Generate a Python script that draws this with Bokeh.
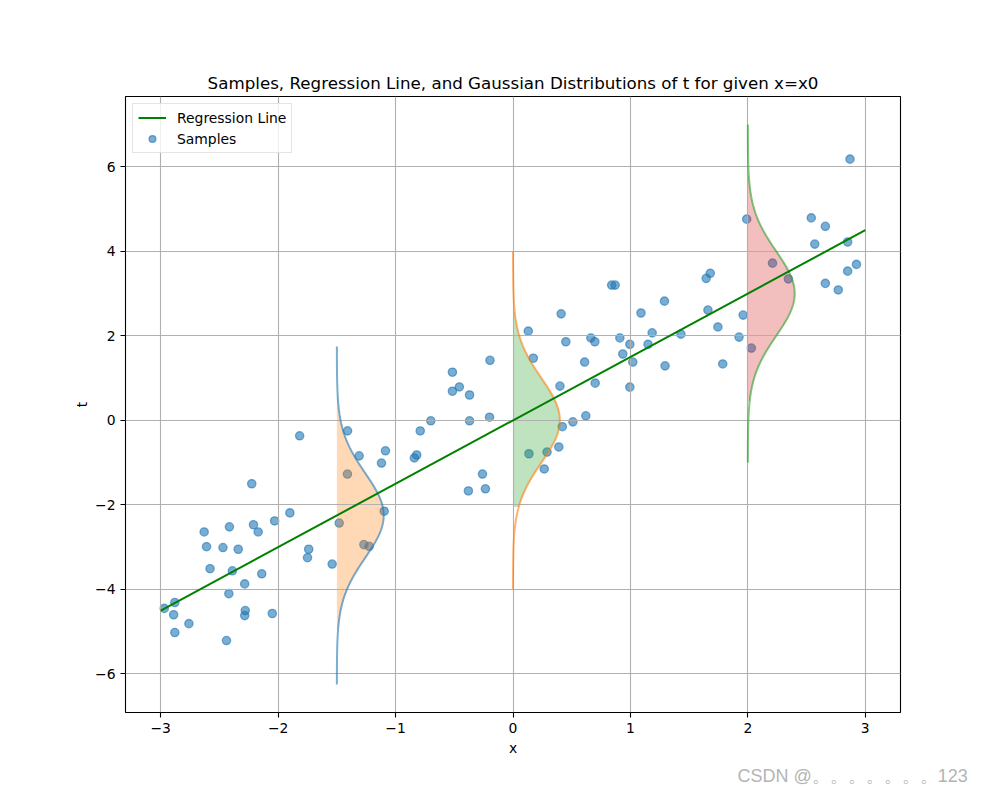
import numpy as np
from bokeh.plotting import figure
from bokeh.models import (Range1d, FixedTicker, Legend, LegendItem, Title,
                          CustomJSTickFormatter)
from bokeh.embed import file_html
from bokeh.resources import INLINE

# ---------------- data ----------------
sample_x = [-1.817, -1.409, -1.31, -1.12, -1.41, -2.225, -1.90, -2.03, -2.415, -2.21,
            -2.17, -2.63, -1.48, -2.61, -2.47, -2.34, -1.74, -1.75, -1.54, -1.27,
            -1.225, -2.58, -2.39, -2.14, -2.285, -2.42, -2.88, -2.97, -2.89, -2.28,
            -2.285, -2.05, -2.76, -2.88, -2.44, -1.086, -1.097, -0.516, -0.196, -0.516,
            -0.457, -0.37, -0.70, -0.79, -0.37, -0.20, -0.84, -0.82, -0.26, -0.38,
            -0.235, 0.13, 0.41, 0.173, 0.45, 0.663, 0.697, 0.61, 0.40, 0.70,
            0.42, 0.51, 0.62, 0.39, 0.29, 0.136, 0.266, 0.84, 0.87, 0.91,
            0.995, 0.935, 1.02, 0.995, 1.09, 1.29, 1.185, 1.15, 1.295, 1.43,
            2.87, 1.99, 2.54, 2.66, 2.57, 2.85, 2.21, 2.345, 2.85, 2.925,
            2.66, 2.77, 1.645, 1.68, 1.66, 1.96, 1.745, 1.925, 1.786, 2.03]
sample_t = [-0.366, -0.248, -0.84, -1.01, -1.27, -1.50, -2.19, -2.38, -2.52, -2.47,
            -2.64, -2.64, -2.43, -2.99, -3.01, -3.05, -3.05, -3.25, -3.40, -2.94,
            -2.98, -3.51, -3.56, -3.63, -3.87, -4.10, -4.31, -4.45, -4.60, -4.50,
            -4.62, -4.57, -4.81, -5.02, -5.21, -0.72, -2.15, 1.14, 1.42, 0.69,
            0.79, 0.60, -0.01, -0.25, -0.01, 0.075, -0.89, -0.82, -1.27, -1.67,
            -1.62, 2.11, 2.52, 1.47, 1.86, 1.95, 1.86, 1.38, 0.81, 0.88,
            -0.15, -0.035, 0.106, -0.63, -0.75, -0.79, -1.15, 3.20, 3.20, 1.95,
            1.80, 1.57, 1.38, 0.785, 2.54, 2.82, 2.07, 1.80, 1.29, 2.04,
            6.18, 4.76, 4.79, 4.59, 4.17, 4.22, 3.72, 3.345, 3.53, 3.69,
            3.24, 3.085, 3.36, 3.48, 2.61, 2.49, 2.21, 1.97, 1.335, 1.71]

reg_x = [-3.0, 3.0]
reg_t = [-4.5, 4.5]

x0_list = [-1.5, 0.0, 2.0]      # positions of the Gaussian curves
slope = 1.5                      # regression slope (mean of t at x0)
sigma = 1.0
t_half = 4.0                     # curve drawn over mean +/- t_half
fill_lo = [-4.95, -2.05, 0.45]   # fill extents (t)
fill_hi = [0.6, 2.55, 5.8]

x_ticks = [-3, -2, -1, 0, 1, 2, 3]
y_ticks = [-6, -4, -2, 0, 2, 4, 6]

line_colors = ["#1f77b4", "#ff7f0e", "#2ca02c"]
fill_colors = ["#ff7f0e", "#2ca02c", "#d62728"]

FONT = "DejaVu Sans"

# ---------------- figure ----------------
p = figure(width=992, height=792,
           x_range=Range1d(-3.3, 3.3), y_range=Range1d(-6.9125, 7.6625),
           output_backend="svg", toolbar_location=None,
           min_border_left=125, min_border_right=92,
           min_border_top=96, min_border_bottom=80,
           title="Samples, Regression Line, and Gaussian Distributions of t for given x=x0")

p.title.text_font = FONT
p.title.text_font_size = "16.7px"
p.title.text_font_style = "normal"
p.title.align = "center"
p.title.standoff = 7
p.title.text_color = "black"

p.background_fill_color = "white"
p.border_fill_color = "white"
p.outline_line_color = "black"
p.outline_line_width = 1.1

fmt = CustomJSTickFormatter(code="return (tick < 0 ? '\u2212' : '') + Math.abs(tick).toString();")

p.xaxis.ticker = FixedTicker(ticks=x_ticks)
p.yaxis.ticker = FixedTicker(ticks=y_ticks)
for ax in (p.xaxis, p.yaxis):
    ax.formatter = fmt
    ax.axis_line_color = None
    ax.major_tick_out = 5
    ax.major_tick_in = 0
    ax.minor_tick_out = 0
    ax.minor_tick_in = 0
    ax.major_tick_line_color = "black"
    ax.major_tick_line_width = 1.1
    ax.major_label_text_font = FONT
    ax.major_label_text_font_size = "13.9px"
    ax.major_label_text_color = "black"
    ax.major_label_standoff = 5
    ax.axis_label_text_font = FONT
    ax.axis_label_text_font_size = "13.9px"
    ax.axis_label_text_font_style = "normal"
    ax.axis_label_text_color = "black"
p.xaxis.axis_label = "x"
p.yaxis.axis_label = "t"
p.xaxis.axis_label_standoff = 4
p.yaxis.axis_label_standoff = 2

p.grid.grid_line_color = "#b0b0b0"
p.grid.grid_line_width = 1.1

# samples (bottom-most)
sc = p.scatter(sample_x, sample_t, size=8.3, fill_color="#1f77b4", fill_alpha=0.6,
               line_color="#1f77b4", line_alpha=0.6, line_width=1.3, level="image")

# Gaussian fills and curves
for x0, fc, lo, hi in zip(x0_list, fill_colors, fill_lo, fill_hi):
    mean = slope * x0
    tf = np.linspace(lo, hi, 300)
    pf = np.exp(-0.5 * ((tf - mean) / sigma) ** 2) / (sigma * np.sqrt(2 * np.pi))
    p.harea(x1=np.full_like(tf, x0), x2=x0 + pf, y=tf, fill_color=fc, fill_alpha=0.3,
            level="image")
for x0, lc in zip(x0_list, line_colors):
    mean = slope * x0
    tc = np.linspace(mean - t_half, mean + t_half, 400)
    pc = np.exp(-0.5 * ((tc - mean) / sigma) ** 2) / (sigma * np.sqrt(2 * np.pi))
    p.line(x0 + pc, tc, line_color=lc, line_alpha=0.6, line_width=2)

reg = p.line(reg_x, reg_t, line_color="green", line_width=2)

legend = Legend(items=[LegendItem(label="Regression Line", renderers=[reg]),
                       LegendItem(label="Samples", renderers=[sc])],
                location="top_left")
legend.label_text_font = FONT
legend.label_text_font_size = "13.9px"
legend.label_text_color = "black"
legend.border_line_color = "#cccccc"
legend.border_line_width = 1
legend.background_fill_alpha = 0.8
legend.margin = 7
legend.padding = 5
legend.spacing = 4
legend.glyph_width = 28
legend.glyph_height = 17
legend.label_height = 17
legend.label_standoff = 11
p.add_layout(legend)

wm = Title(text="CSDN @。。。。。。。123", align="left", offset=612,
           text_font="Liberation Sans", text_font_size="18px",
           text_font_style="normal", text_color="#b4b4b4", standoff=10)
p.add_layout(wm, "below")

open("out.html", "w").write(file_html(p, INLINE))
